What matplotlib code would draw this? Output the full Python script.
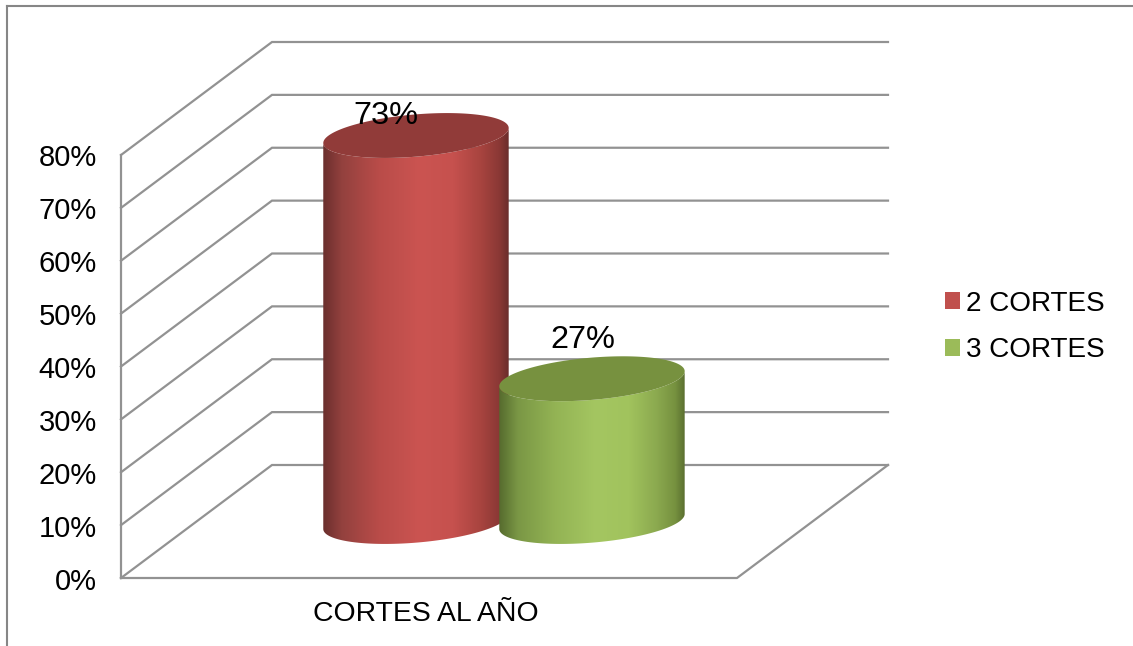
import numpy as np
import matplotlib
matplotlib.use("Agg")
import matplotlib.pyplot as plt
from matplotlib.colors import LinearSegmentedColormap
from matplotlib.lines import Line2D
from matplotlib.patches import Patch, Polygon
from matplotlib.transforms import Affine2D

# ---- data ----
category = ["CORTES AL AÑO"]
series_names = ["2 CORTES", "3 CORTES"]
series_values = [73, 27]
value_labels = ["73%", "27%"]
y_ticks = [0, 10, 20, 30, 40, 50, 60, 70, 80]

# ---- styles ----
W, H = 1133, 646
plt.rcParams["font.family"] = ["Liberation Sans", "DejaVu Sans"]
GRID = "#929292"
FRAME = "#868686"
LEG = ["#c0504d", "#9bbb59"]
TOPS = ["#913b39", "#77913f"]
SIDE_STOPS = [0, .10, .30, .52, .70, .85, .95, 1]
SIDES = [
    ["#6b2f2d", "#93413e", "#b94c49", "#cb5451", "#c6514e", "#a8443f", "#8a3835", "#6a2d2b"],
    ["#566b2e", "#7a9745", "#93b354", "#a4c661", "#a1c35d", "#8ba94f", "#76913f", "#5b7030"],
]
centers = [0.3563, 0.6420]   # category-axis positions of the bars (front plane)
radius = 0.1505
depth_x = 151 / 616
depth_y = 113 / (423 / 80)
ell_b, ell_k = 4.0, 1.42     # ellipse half-height and shear in value units
label_off = [(-30, 20), (-9, 39)]

fig = plt.figure(figsize=(W / 100, H / 100), dpi=100, facecolor="white")
ax = fig.add_axes([121 / W, (H - 578) / H, 616 / W, 423 / H])
ax.set_xlim(0, 1)
ax.set_ylim(0, 80)
ax.patch.set_visible(False)
for s in ax.spines.values():
    s.set_visible(False)

# outer frame
fig.add_artist(Line2D([7 / W, 7 / W], [0, 1 - 6 / H], color=FRAME, lw=1.5))
fig.add_artist(Line2D([7 / W, 1], [1 - 6 / H, 1 - 6 / H], color=FRAME, lw=1.5))

# walls
lw = 1.6
for v in y_ticks:
    ax.plot([0, depth_x, 1 + depth_x], [v, v + depth_y, v + depth_y],
            color=GRID, lw=lw, clip_on=False, zorder=1, solid_joinstyle="miter")
ax.plot([0, 0], [0, 80], color=GRID, lw=lw, clip_on=False, zorder=1)
ax.plot([0, 1, 1 + depth_x], [0, 0, depth_y], color=GRID, lw=lw, clip_on=False, zorder=1)

# cylinders
t = np.linspace(0, 2 * np.pi, 241)
def ellipse(cx, yc, tt):
    return cx + radius * np.cos(tt), yc + ell_b * np.sin(tt) + ell_k * np.cos(tt)

for i, v in enumerate(series_values):
    cx = centers[i] + depth_x / 2
    y_top = v + depth_y / 2
    y_bot = depth_y / 2
    z = 3 + i * 2
    tb = np.linspace(-np.pi, 0, 121)   # front half of the base, left to right
    bx, by = ellipse(cx, y_bot, tb)
    tx, ty = ellipse(cx, y_top, tb[::-1])
    verts = np.column_stack([np.r_[bx, tx], np.r_[by, ty]])
    clip = Polygon(verts, closed=True, transform=ax.transData, fc="none", ec="none")
    clip.set_clip_on(False)
    ax.add_patch(clip)
    cmap = LinearSegmentedColormap.from_list("side", list(zip(SIDE_STOPS, SIDES[i])))
    im = ax.imshow(np.linspace(0, 1, 256)[None, :], cmap=cmap, aspect="auto",
                   extent=[cx - radius, cx + radius, y_bot - 10, y_top + 10],
                   zorder=z, interpolation="bilinear")
    im.set_clip_box(fig.bbox)
    im.set_clip_path(clip)
    ex, ey = ellipse(cx, y_top, t)
    ax.fill(ex, ey, color=TOPS[i], lw=0, clip_on=False, zorder=z + 0.5)
    ax.annotate(value_labels[i], xy=(cx, y_top), xytext=label_off[i],
                textcoords="offset pixels", ha="center", va="center",
                fontsize=23.4, color="black", zorder=10, annotation_clip=False)
ax.set_xlim(0, 1)
ax.set_ylim(0, 80)
ax.set_aspect("auto")

# axes
ax.set_yticks(y_ticks)
ax.set_yticklabels([f"{v}%" for v in y_ticks], fontsize=21)
ax.set_xticks([0.495])
ax.set_xticklabels(category, fontsize=20.4)
ax.tick_params(axis="y", length=0, pad=17.5)
ax.tick_params(axis="x", length=0, pad=16.5)
for lab in ax.get_yticklabels():
    lab.set_transform(lab.get_transform() + Affine2D().translate(0, -0.5))

# legend
handles = [Patch(fc=c, ec="none", label=n) for c, n in zip(LEG, series_names)]
fig.legend(handles=handles, loc="center left", bbox_to_anchor=(945 / W, 1 - 327 / H),
           frameon=False, fontsize=20.1, handlelength=0.54, handleheight=0.54,
           handletextpad=0.2, labelspacing=0.74, borderpad=0, borderaxespad=0)

fig.savefig("out.png", dpi=100, facecolor="white")
